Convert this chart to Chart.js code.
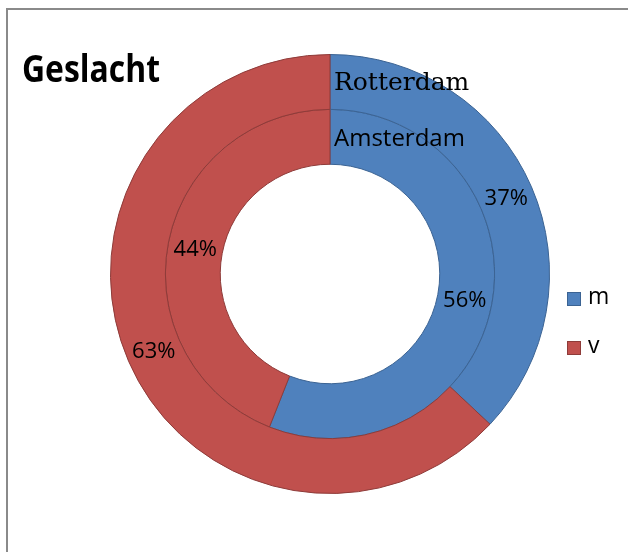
<!DOCTYPE html>
<html>
<head>
<meta charset="utf-8">
<script src="https://cdn.jsdelivr.net/npm/chart.js@4/dist/chart.umd.min.js"></script>
<style>
  body { margin: 0; overflow: hidden; background: #fff; }
  #frame { position: absolute; left: 6px; top: 8px; width: 1000px; height: 1000px; border: 2px solid #8a8a8a; }
  #canvas { position: absolute; left: 0; top: 0; }
</style>
</head>
<body>
<div id="frame"></div>
<canvas id="canvas" width="628" height="552"></canvas>
<script>
const title = "Geslacht";
const categories = ["m", "v"];
const cities = ["Rotterdam", "Amsterdam"];
const rotterdam = [37, 63];
const amsterdam = [56, 44];

const fills = ["#4F81BD", "#C0504D"];
const borders = ["#3B6393", "#8E3B39"];
const sans = '"Open Sans", sans-serif';

// draws title, ring names, percentages and the legend
const textPlugin = {
  id: "texts",
  afterDraw: (chart) => {
    const ctx = chart.ctx;
    ctx.save();
    ctx.fillStyle = "#000";

    // title, squeezed a bit like Calibri
    ctx.font = "bold 38px " + sans;
    ctx.textBaseline = "alphabetic";
    ctx.textAlign = "left";
    const w = ctx.measureText(title).width;
    ctx.save();
    ctx.translate(22, 82);
    ctx.scale(138 / w, 1);
    ctx.fillText(title, 0, 0);
    ctx.restore();

    chart.data.datasets.forEach((ds, i) => {
      const meta = chart.getDatasetMeta(i);
      const first = meta.data[0];
      const mid = (first.innerRadius + first.outerRadius) / 2;

      // ring name at the start of each ring
      ctx.textAlign = "left";
      ctx.textBaseline = "middle";
      ctx.font = i === 0 ? '25px "DejaVu Serif", serif' : "24px " + sans;
      ctx.fillText(ds.label, first.x + 4, first.y - mid + 2);

      // percentages in the middle of each segment
      ctx.font = "22px " + sans;
      ctx.textAlign = "center";
      meta.data.forEach((arc, j) => {
        const p = arc.tooltipPosition();
        ctx.fillText(ds.data[j] + "%", p.x, p.y + 1);
      });
    });

    // legend
    ctx.font = "23px " + sans;
    ctx.textAlign = "left";
    ctx.textBaseline = "middle";
    categories.forEach((c, k) => {
      const y = 292 + k * 49;
      ctx.fillStyle = fills[k];
      ctx.fillRect(567, y, 14, 14);
      ctx.strokeStyle = borders[k];
      ctx.lineWidth = 1;
      ctx.strokeRect(567.5, y + 0.5, 13, 13);
      ctx.fillStyle = "#000";
      ctx.fillText(c, 588, y + 5);
    });
    ctx.restore();
  },
};

const data = {
  labels: categories,
  datasets: [
    {
      label: cities[0],
      data: rotterdam,
      backgroundColor: fills,
      borderColor: borders,
      borderWidth: 1,
    },
    {
      label: cities[1],
      data: amsterdam,
      backgroundColor: fills,
      borderColor: borders,
      borderWidth: 1,
    },
  ],
};

const config = {
  type: "doughnut",
  data: data,
  options: {
    responsive: false,
    animation: false,
    cutout: "50%",
    hoverOffset: 0,
    hoverBorderWidth: 1,
    layout: { padding: { left: 110, right: 78, top: 54, bottom: 58 } },
    plugins: {
      legend: { display: false },
      tooltip: { enabled: false },
      title: { display: false },
    },
  },
  plugins: [textPlugin],
};

const canvas = document.getElementById("canvas");
const chart = new Chart(canvas, config);
</script>
</body>
</html>
